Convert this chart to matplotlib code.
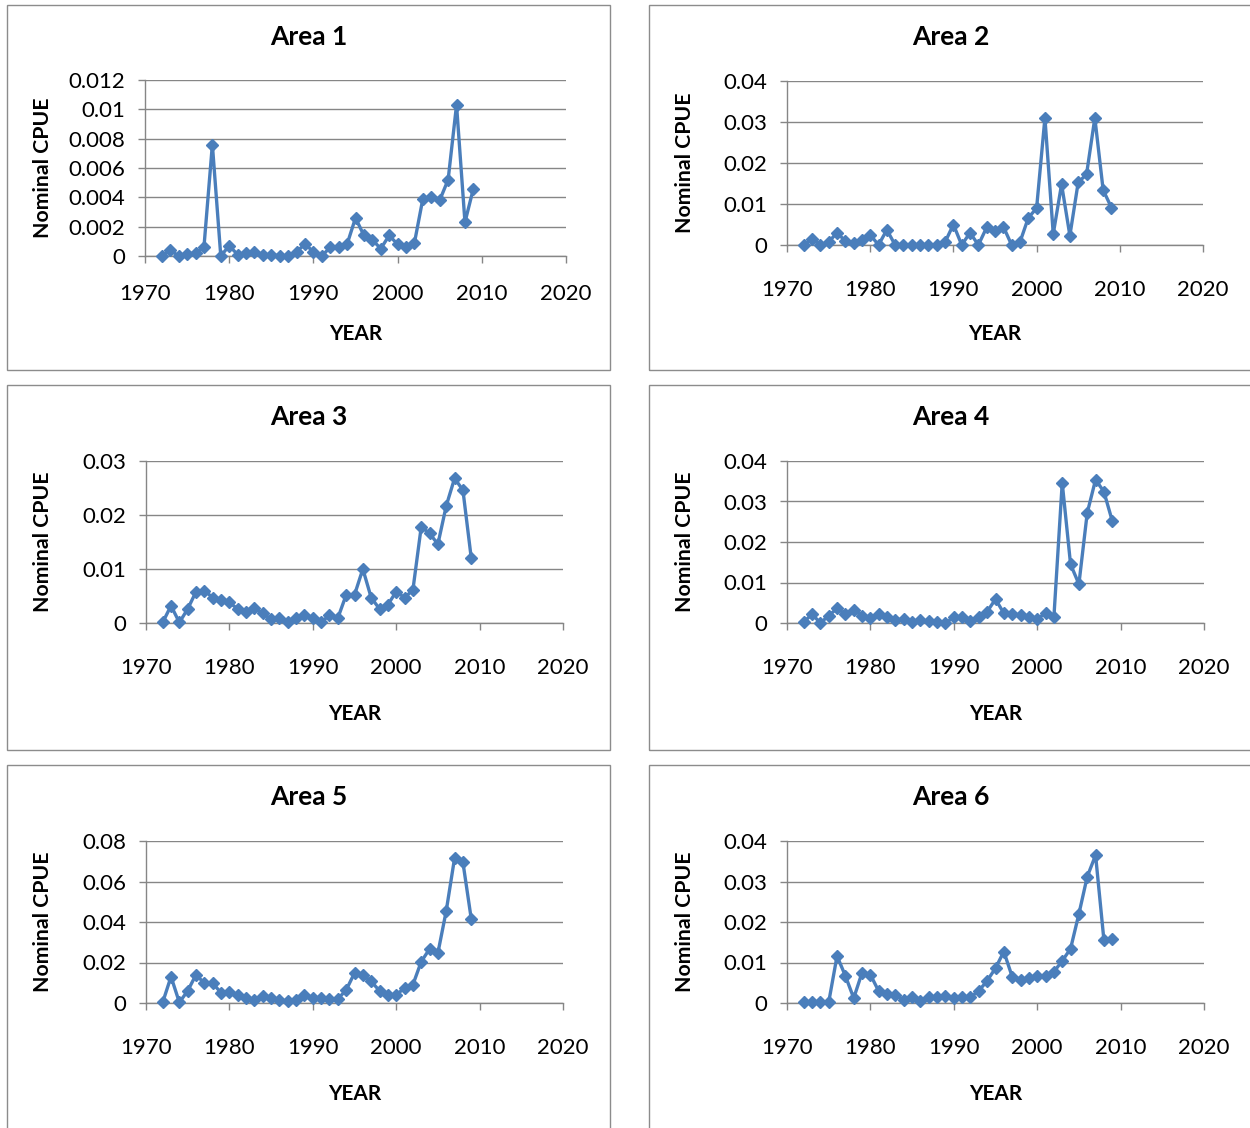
import matplotlib
matplotlib.use("Agg")
import matplotlib.pyplot as plt
from matplotlib.patches import Rectangle

plt.rcParams['font.family'] = ['Lato', 'DejaVu Sans']

years = list(range(1972, 2010))

area1 = [0, 0.0004, 0, 0.00015, 0.0002, 0.0006, 0.0076, 0, 0.0007, 0.0001,
         0.0002, 0.0003, 0.00005, 0.0001, 0, 0, 0.0003, 0.0008, 0.0003, 0,
         0.0006, 0.0006, 0.0008, 0.0026, 0.0014, 0.0011, 0.0005, 0.0014, 0.0008, 0.0006,
         0.0009, 0.0039, 0.0040, 0.0038, 0.0052, 0.0103, 0.0023, 0.0046]
area2 = [0, 0.0015, 0, 0.0007, 0.003, 0.001, 0.0005, 0.0013, 0.0025, 0,
         0.0037, 0, 0, 0, 0, 0, 0, 0.0007, 0.005, 0,
         0.003, 0, 0.0043, 0.0034, 0.0045, 0, 0.0007, 0.0066, 0.009, 0.031,
         0.0027, 0.0148, 0.0023, 0.0153, 0.0172, 0.031, 0.0134, 0.0091]
area3 = [0.0001, 0.0032, 0.0001, 0.0026, 0.0058, 0.006, 0.0047, 0.0043, 0.0038, 0.0026,
         0.002, 0.0027, 0.0018, 0.0007, 0.0009, 0.0001, 0.0009, 0.0015, 0.0009, 0.0002,
         0.0014, 0.0009, 0.0052, 0.0052, 0.01, 0.0047, 0.0026, 0.0034, 0.0058, 0.0047,
         0.0061, 0.0178, 0.0166, 0.0146, 0.0217, 0.0268, 0.0246, 0.012]
area4 = [0.0002, 0.0022, 0, 0.0018, 0.0036, 0.0022, 0.0032, 0.0018, 0.0012, 0.0022,
         0.0014, 0.0007, 0.001, 0.0003, 0.0008, 0.0004, 0.0002, 0, 0.0014, 0.0016,
         0.0006, 0.0014, 0.0028, 0.0059, 0.0024, 0.0022, 0.002, 0.0016, 0.001, 0.0024,
         0.0014, 0.0346, 0.0145, 0.0096, 0.0272, 0.0354, 0.0324, 0.0252]
area5 = [0.0003, 0.013, 0.0003, 0.006, 0.014, 0.0097, 0.0098, 0.005, 0.0052, 0.004,
         0.0025, 0.0016, 0.0033, 0.0023, 0.0013, 0.0011, 0.0016, 0.004, 0.0025, 0.0025,
         0.002, 0.002, 0.0064, 0.0148, 0.0138, 0.0107, 0.006, 0.004, 0.004, 0.0074,
         0.009, 0.0204, 0.0267, 0.0247, 0.0455, 0.0716, 0.0695, 0.0415]
area6 = [0.0002, 0.0002, 0.0002, 0.0002, 0.0116, 0.0067, 0.0012, 0.0075, 0.007, 0.0029,
         0.0022, 0.002, 0.0008, 0.0014, 0.0006, 0.0014, 0.0014, 0.0018, 0.0012, 0.0016,
         0.0014, 0.003, 0.0055, 0.0086, 0.0127, 0.0065, 0.0057, 0.0062, 0.0067, 0.0066,
         0.0077, 0.0104, 0.0134, 0.022, 0.0312, 0.0365, 0.0155, 0.0157]

titles = ['Area 1', 'Area 2', 'Area 3', 'Area 4', 'Area 5', 'Area 6']
series = [area1, area2, area3, area4, area5, area6]
yticks = [
    ([0, 0.002, 0.004, 0.006, 0.008, 0.01, 0.012], ['0', '0.002', '0.004', '0.006', '0.008', '0.01', '0.012']),
    ([0, 0.01, 0.02, 0.03, 0.04], ['0', '0.01', '0.02', '0.03', '0.04']),
    ([0, 0.01, 0.02, 0.03], ['0', '0.01', '0.02', '0.03']),
    ([0, 0.01, 0.02, 0.03, 0.04], ['0', '0.01', '0.02', '0.03', '0.04']),
    ([0, 0.02, 0.04, 0.06, 0.08], ['0', '0.02', '0.04', '0.06', '0.08']),
    ([0, 0.01, 0.02, 0.03, 0.04], ['0', '0.01', '0.02', '0.03', '0.04']),
]
xticks = [1970, 1980, 1990, 2000, 2010, 2020]

W, H = 1250, 1128
# panel boxes (left, top, right, bottom) and plot areas (left, top, right, bottom) in pixels
boxes = [(7, 5, 610, 370), (649, 5, 1262, 370),
         (7, 385, 610, 750), (649, 385, 1262, 750),
         (7, 765, 610, 1140), (649, 765, 1262, 1140)]
plots = [(145, 80, 566, 256), (787, 81, 1203, 245),
         (146, 461, 563, 623), (787, 461, 1204, 623),
         (146, 841, 563, 1003), (787, 841, 1204, 1003)]
xtick_pad = [15, 20, 20, 20, 20, 20]

fig = plt.figure(figsize=(W / 100, H / 100), dpi=100)

line_color = '#4a7ebb'
grid_color = '#868686'


def px(x, y):
    return x / W, 1 - y / H


for i in range(6):
    bl, bt, br, bb = boxes[i]
    fig.patches.append(Rectangle(px(bl, bb), (br - bl) / W, (bb - bt) / H,
                                 transform=fig.transFigure, fill=False,
                                 edgecolor='#8c8c8c', linewidth=1.0))
    pl, pt, pr, pb = plots[i]
    ax = fig.add_axes([pl / W, 1 - pb / H, (pr - pl) / W, (pb - pt) / H])
    ax.plot(years, series[i], color=line_color, linewidth=2.4,
            marker='D', markersize=6, markeredgecolor=line_color, clip_on=False, zorder=3)
    ticks, labels = yticks[i]
    ax.set_ylim(ticks[0], ticks[-1])
    ax.set_yticks(ticks)
    ax.set_yticklabels(labels)
    ax.set_xlim(1970, 2020)
    ax.set_xticks(xticks)
    ax.grid(axis='y', color=grid_color, linewidth=1.0)
    ax.set_axisbelow(True)
    for s in ['top', 'right']:
        ax.spines[s].set_visible(False)
    for s in ['left', 'bottom']:
        ax.spines[s].set_color(grid_color)
        ax.spines[s].set_linewidth(1.0)
    ax.tick_params(axis='both', colors=grid_color, labelcolor='black',
                   labelsize=16, length=5, width=1.0)
    ax.tick_params(axis='x', pad=xtick_pad[i])
    ax.tick_params(axis='y', pad=9)

    # title centred on the chart box, axis labels placed like the Excel layout
    fig.text(*px((bl + min(br, bl + 603)) / 2, bt + 32), titles[i],
             fontsize=19, fontweight='bold', ha='center', va='center')
    fig.text(*px((pl + pr) / 2, bt + 329), 'YEAR',
             fontsize=15, fontweight='bold', ha='center', va='center')
    fig.text(*px(bl + 36, (pt + pb) / 2), 'Nominal CPUE',
             fontsize=15.3, fontweight='bold', ha='center', va='center', rotation=90)

fig.savefig('out.png', dpi=100)
